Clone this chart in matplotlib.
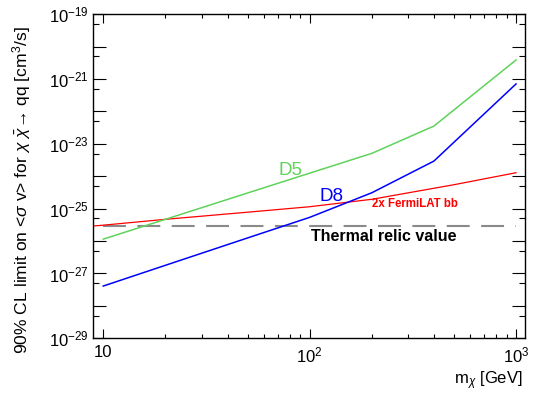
import matplotlib
matplotlib.use("Agg")
import matplotlib.pyplot as plt
from matplotlib.ticker import FixedLocator, FixedFormatter, NullFormatter

plt.rcParams['font.family'] = ['Liberation Sans', 'DejaVu Sans']
plt.rcParams['mathtext.fontset'] = 'custom'
plt.rcParams['mathtext.rm'] = 'Liberation Sans'
plt.rcParams['mathtext.it'] = 'Liberation Sans:italic'
plt.rcParams['mathtext.bf'] = 'Liberation Sans:bold'
plt.rcParams['mathtext.sf'] = 'Liberation Sans'

# ---- data ----
mass_d5 = [10, 20, 50, 100, 200, 400, 1000]
limit_d5 = [1.15e-26, 4.7e-26, 3.05e-25, 1.25e-24, 5.1e-24, 3.55e-23, 3.9e-21]

mass_d8 = [10, 20, 50, 100, 200, 400, 1000]
limit_d8 = [4.1e-28, 1.79e-27, 1.25e-26, 5.4e-26, 3.1e-25, 2.95e-24, 7.1e-22]

mass_fermi = [9, 10, 20, 50, 100, 200, 500, 1000]
limit_fermi = [2.93e-26, 3.1e-26, 4.7e-26, 7.8e-26, 1.15e-25, 1.95e-25, 5.5e-25, 1.29e-24]

mass_relic = [10, 1000]
limit_relic = [3e-26, 3e-26]

xtick_values = [10, 100, 1000]
xtick_labels = ["10", "$10^{2}$", "$10^{3}$"]
ytick_values = [1e-29, 1e-28, 1e-27, 1e-26, 1e-25, 1e-24, 1e-23, 1e-22, 1e-21, 1e-20, 1e-19]
ytick_labels = ["$10^{-29}$", "", "$10^{-27}$", "", "$10^{-25}$", "", "$10^{-23}$", "",
                "$10^{-21}$", "", "$10^{-19}$"]
yminor_values = [5e-29, 5e-28, 5e-27, 5e-26, 5e-25, 5e-24, 5e-23, 5e-22, 5e-21, 5e-20]
xminor_values = [20, 30, 40, 50, 60, 70, 80, 90, 200, 300, 400, 500, 600, 700, 800, 900]

fig = plt.figure(figsize=(5.36, 3.94), dpi=100)
ax = fig.add_axes([93.3 / 536, 1 - 338.3 / 394, (525 - 93.3) / 536, (338.3 - 14.3) / 394])

ax.plot(mass_relic, limit_relic, color='#8a8a8a', lw=1.5, dashes=(11, 5.5))
ax.plot(mass_fermi, limit_fermi, color='#ff0000', lw=0.9)
ax.plot(mass_d5, limit_d5, color='#5fd35a', lw=1.1)
ax.plot(mass_d8, limit_d8, color='#0000ff', lw=1.1)

ax.set_xscale('log')
ax.set_yscale('log')
ax.set_xlim(8.95, 1105)
ax.set_ylim(1e-29, 1e-19)

ax.xaxis.set_major_locator(FixedLocator(xtick_values))
ax.xaxis.set_major_formatter(FixedFormatter(xtick_labels))
ax.xaxis.set_minor_locator(FixedLocator(xminor_values))
ax.xaxis.set_minor_formatter(NullFormatter())
ax.yaxis.set_major_locator(FixedLocator(ytick_values))
ax.yaxis.set_major_formatter(FixedFormatter(ytick_labels))
ax.yaxis.set_minor_locator(FixedLocator(yminor_values))
ax.yaxis.set_minor_formatter(NullFormatter())

ax.tick_params(axis='both', which='both', direction='in', top=True, right=True,
               labelsize=12, width=0.8, colors='black')
ax.tick_params(axis='x', which='major', length=6.2, pad=5)
ax.tick_params(axis='x', which='minor', length=3.2)
ax.tick_params(axis='y', which='major', length=9.5, pad=3.5)
ax.tick_params(axis='y', which='minor', length=4.5)
for s in ax.spines.values():
    s.set_linewidth(1.0)

ax.text(0.4285, 0.504, "D5", transform=ax.transAxes, color='#5fd35a', fontsize=13.5,
        va='baseline', ha='left')
ax.text(0.5235, 0.4247, "D8", transform=ax.transAxes, color='#0000ff', fontsize=13.5,
        va='baseline', ha='left')
ax.text(0.645, 0.4043, "2x FermiLAT bb", transform=ax.transAxes, color='#ff0000',
        fontsize=8.3, fontweight='bold', va='baseline', ha='left')
ax.text(0.5043, 0.3012, "Thermal relic value", transform=ax.transAxes, color='black',
        fontsize=11.5, fontweight='bold', va='baseline', ha='left')

fig.text(523 / 536, 1 - 384 / 394, r"m$_{\chi}$ [GeV]", fontsize=12, ha='right',
         va='baseline')
fig.text(22 / 536, 1 - 190 / 394,
         "90% CL limit on <$\\sigma$ v> for $\\chi$ $\\bar{\\chi}$\u2192 qq [cm$^{3}$/s]",
         fontsize=12.6, rotation=90, ha='center', va='center')

fig.savefig("out.png", dpi=100)
